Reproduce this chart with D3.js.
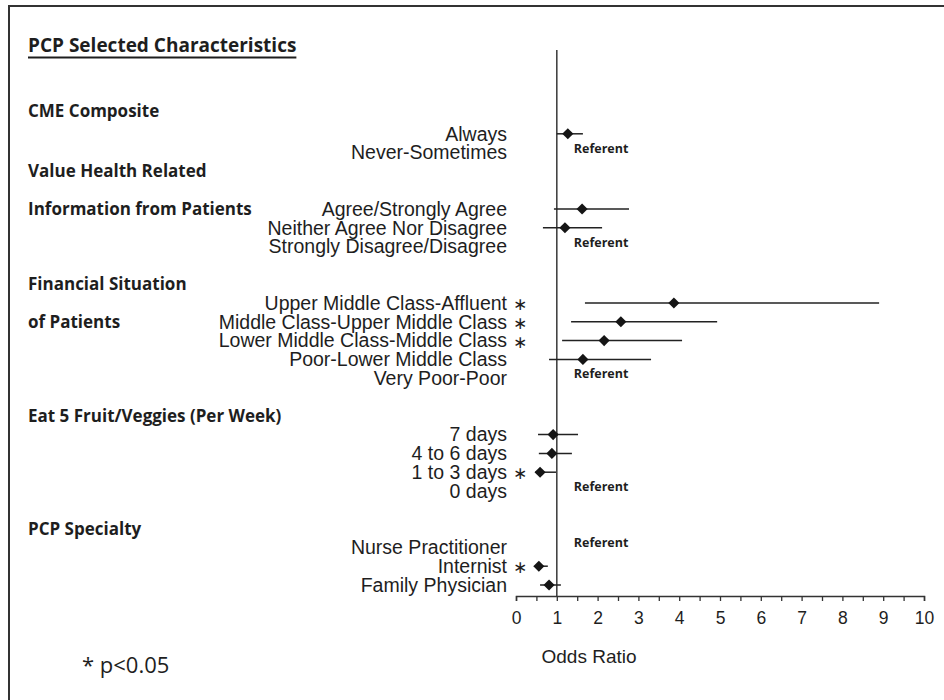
<!DOCTYPE html>
<html>
<head>
<meta charset="utf-8">
<script src="https://cdn.jsdelivr.net/npm/d3@7"></script>
<style>
  html, body { margin: 0; padding: 0; background: #fff; }
  svg { display: block; }
</style>
</head>
<body>
<svg id="chart" width="944" height="700"></svg>
<script>
// ---------------- data ----------------
const chartTitle = "PCP Selected Characteristics";
const rowLabels = [
  "Always", "Never-Sometimes",
  "Agree/Strongly Agree", "Neither Agree Nor Disagree", "Strongly Disagree/Disagree",
  "Upper Middle Class-Affluent", "Middle Class-Upper Middle Class", "Lower Middle Class-Middle Class",
  "Poor-Lower Middle Class", "Very Poor-Poor",
  "7 days", "4 to 6 days", "1 to 3 days", "0 days",
  "Nurse Practitioner", "Internist", "Family Physician"
];
const oddsRatio = [1.27, null, 1.62, 1.20, null, 3.87, 2.57, 2.16, 1.64, null, 0.91, 0.88, 0.59, null, null, 0.56, 0.81];
const ciLower   = [1.00, null, 0.93, 0.66, null, 1.69, 1.35, 1.13, 0.81, null, 0.54, 0.56, 0.47, null, null, 0.46, 0.59];
const ciUpper   = [1.64, null, 2.77, 2.11, null, 8.90, 4.93, 4.07, 3.31, null, 1.52, 1.37, 0.98, null, null, 0.78, 1.10];
const significant = [false, false, false, false, false, true, true, true, false, false, false, false, true, false, false, true, false];
const referentRows = ["Never-Sometimes", "Strongly Disagree/Disagree", "Very Poor-Poor", "0 days", "Nurse Practitioner"];
const sectionHeaders = ["CME Composite", "Value Health Related", "Information from Patients",
  "Financial Situation", "of Patients", "Eat 5 Fruit/Veggies (Per Week)", "PCP Specialty"];
// slot each header sits on (its own slot or a shared row slot)
const headerSlots = ["CME Composite", "Value Health Related", "Agree/Strongly Agree",
  "Financial Situation", "Middle Class-Upper Middle Class", "Eat 5 Fruit/Veggies (Per Week)", "PCP Specialty"];
// vertical order of slots (headers, rows, blank gaps)
const slotOrder = [
  "CME Composite", "Always", "Never-Sometimes",
  "Value Health Related", "_gap1",
  "Agree/Strongly Agree", "Neither Agree Nor Disagree", "Strongly Disagree/Disagree", "_gap2",
  "Financial Situation", "Upper Middle Class-Affluent", "Middle Class-Upper Middle Class",
  "Lower Middle Class-Middle Class", "Poor-Lower Middle Class", "Very Poor-Poor", "_gap3",
  "Eat 5 Fruit/Veggies (Per Week)", "7 days", "4 to 6 days", "1 to 3 days", "0 days", "_gap4",
  "PCP Specialty", "Nurse Practitioner", "Internist", "Family Physician"
];
const xDomain = [0, 10];
const xTickValues = d3.range(0, 10.001, 0.5);
const xLabel = "Odds Ratio";
const referentText = "Referent";
const footnote = "* p<0.05";

// ---------------- drawing ----------------
const svg = d3.select("#chart");
const labelFont = "'Liberation Sans', Arial, Helvetica, sans-serif";
const boldFont = "'Open Sans', Lato, sans-serif";
const ink = "#1e1e1e";

svg.append("rect").attr("width", 944).attr("height", 700).attr("fill", "#fff");

// frame (top and left edges visible)
svg.append("path")
  .attr("d", "M9,702 L9,6 L946,6")
  .attr("fill", "none").attr("stroke", "#333").attr("stroke-width", 2);

const x = d3.scaleLinear().domain(xDomain).range([516, 924]);
const y = d3.scalePoint().domain(slotOrder).range([115, 585]);
const axisY = 596;

// title with underline
const title = svg.append("text")
  .attr("x", 28).attr("y", 52)
  .attr("font-family", boldFont).attr("font-weight", 700).attr("font-size", 19)
  .attr("fill", ink).text(chartTitle);
const tw = title.node().getComputedTextLength();
svg.append("line").attr("x1", 28).attr("x2", 28 + tw).attr("y1", 57.5).attr("y2", 57.5)
  .attr("stroke", ink).attr("stroke-width", 2.2);

// section headers
svg.append("g").selectAll("text").data(sectionHeaders).join("text")
  .attr("x", 28).attr("y", (d, i) => y(headerSlots[i]) - (i === 0 ? 4 : 0))
  .attr("dy", "0.35em")
  .attr("font-family", boldFont).attr("font-weight", 700).attr("font-size", 17)
  .attr("fill", ink).text(d => d);

// row labels
svg.append("g").selectAll("text").data(rowLabels).join("text")
  .attr("x", 507).attr("y", d => y(d)).attr("dy", "0.35em")
  .attr("text-anchor", "end")
  .attr("font-family", labelFont).attr("font-size", 19.5)
  .attr("fill", ink).text(d => d);

// significance asterisks
svg.append("g").selectAll("text").data(rowLabels.filter((d, i) => significant[i])).join("text")
  .attr("x", 520).attr("y", d => y(d)).attr("dy", "0.42em")
  .attr("text-anchor", "middle")
  .attr("font-family", "'DejaVu Sans', sans-serif").attr("font-size", 17)
  .attr("fill", ink).text("\u2217");

// reference line at OR = 1
svg.append("line")
  .attr("x1", x(1)).attr("x2", x(1)).attr("y1", 50).attr("y2", axisY)
  .attr("stroke", "#444").attr("stroke-width", 1.6);

// estimates
const est = rowLabels.map((d, i) => ({ label: d, or: oddsRatio[i], lo: ciLower[i], hi: ciUpper[i] }))
  .filter(d => d.or != null);

svg.append("g").selectAll("line").data(est).join("line")
  .attr("x1", d => x(d.lo)).attr("x2", d => x(d.hi))
  .attr("y1", d => y(d.label)).attr("y2", d => y(d.label))
  .attr("stroke", "#222").attr("stroke-width", 1.5);

const diamond = d3.symbol().type(d3.symbolSquare).size(62);
svg.append("g").selectAll("path").data(est).join("path")
  .attr("d", diamond)
  .attr("transform", d => `translate(${x(d.or)},${y(d.label)}) rotate(45)`)
  .attr("fill", "#151515");

// referent labels
svg.append("g").selectAll("text").data(referentRows).join("text")
  .attr("x", x(1) + 17).attr("y", d => y(d))
  .attr("font-family", boldFont).attr("font-weight", 700).attr("font-size", 12.5)
  .attr("fill", ink).text(referentText);

// x axis
const axis = d3.axisBottom(x)
  .tickValues(xTickValues)
  .tickSize(5).tickSizeOuter(5).tickPadding(11)
  .tickFormat(d => Number.isInteger(d) ? d3.format("d")(d) : "");
const gx = svg.append("g").attr("transform", `translate(0,${axisY})`).call(axis);
gx.select(".domain").attr("stroke", "#333").attr("stroke-width", 1.5);
gx.selectAll(".tick line").attr("stroke", "#333").attr("stroke-width", 1.3);
gx.selectAll(".tick text")
  .attr("font-family", labelFont).attr("font-size", 17.5).attr("fill", ink);

// axis title
svg.append("text").attr("x", 589).attr("y", 663).attr("text-anchor", "middle")
  .attr("font-family", labelFont).attr("font-size", 19).attr("fill", ink).text(xLabel);

// footnote
svg.append("text").attr("x", 82).attr("y", 673)
  .attr("font-family", "'Open Sans', Lato, sans-serif").attr("font-size", 22)
  .attr("fill", ink).text(footnote);
</script>
</body>
</html>
